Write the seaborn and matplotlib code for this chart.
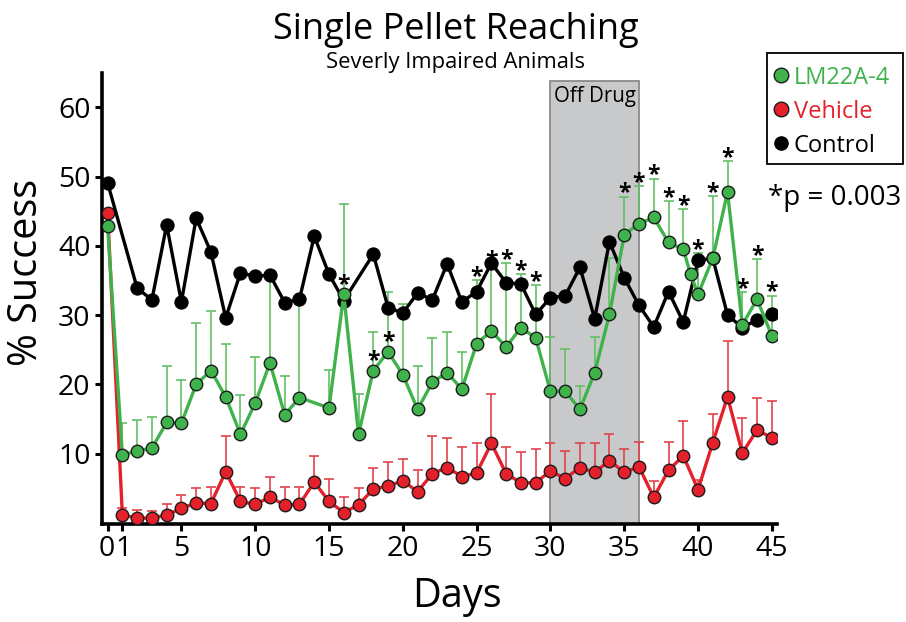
import numpy as np
import matplotlib
matplotlib.use("Agg")
import matplotlib.pyplot as plt
import matplotlib.transforms as mtransforms
from matplotlib.lines import Line2D
from matplotlib.patches import Rectangle
import seaborn as sns

sns.set_style("ticks")
plt.rcParams["font.family"] = ["Open Sans", "DejaVu Sans"]
plt.rcParams["text.color"] = "black"
plt.rcParams["axes.labelcolor"] = "black"
plt.rcParams["xtick.color"] = "black"
plt.rcParams["ytick.color"] = "black"

# ---- data: % success per testing day ----
lm_days = [0, 1, 2, 3, 4, 5, 6, 7, 8, 9, 10, 11, 12, 13, 15, 16, 17, 18, 19, 20,
           21, 22, 23, 24, 25, 26, 27, 28, 29, 30, 31, 32, 33, 34, 35, 36, 37, 38,
           39, 39.5, 40, 41, 42, 43, 44, 45]
lm_mean = [42.8, 9.8, 10.4, 10.8, 14.5, 14.4, 20.0, 22.0, 18.2, 12.8, 17.3, 23.1,
           15.6, 18.1, 16.6, 33.0, 12.8, 22.0, 24.7, 21.4, 16.4, 20.3, 21.7, 19.3,
           25.9, 27.7, 25.4, 28.2, 26.7, 19.0, 19.0, 16.4, 21.7, 30.1, 41.6, 43.2,
           44.1, 40.5, 39.5, 35.9, 33.0, 38.2, 47.8, 28.6, 32.3, 27.0]
lm_sem = [np.nan, 4.6, 4.5, 4.5, 8.1, 6.2, 8.9, 8.6, 7.7, 5.7, 6.7, 12.2, 5.6, 13.5,
          5.5, 13.1, 5.8, 5.5, 8.7, 10.2, 6.3, 6.4, 5.8, 5.4, 9.1, 9.7, 12.1, 7.7,
          7.6, 7.8, 6.1, 3.4, 5.2, 8.1, 5.5, 5.4, 5.6, 6.0, 5.8, np.nan, 5.9, 9.0,
          4.4, 4.7, 5.8, 5.8]

veh_days = list(range(0, 46))
veh_mean = [44.8, 1.15, 0.7, 0.7, 1.15, 2.1, 2.9, 2.8, 7.4, 3.1, 2.7, 3.7, 2.6, 2.7,
            5.9, 3.1, 1.5, 2.6, 4.9, 5.3, 6.1, 4.5, 7.1, 8.0, 6.7, 7.2, 11.5, 7.1,
            5.8, 5.8, 7.5, 6.4, 8.0, 7.3, 9.0, 7.3, 8.1, 3.7, 7.6, 9.7, 4.8, 11.6,
            18.2, 10.1, 13.4, 12.3]
veh_sem = [np.nan, 1.05, 1.2, 1.0, 1.55, 1.9, 2.2, 2.35, 5.2, 2.05, 2.3, 3.0, 2.55,
           2.45, 3.8, 3.2, 2.2, 2.4, 3.1, 3.5, 3.1, 3.2, 5.5, 4.3, 4.3, 4.4, 7.1,
           3.8, 4.5, 4.8, 4.1, 4.0, 3.6, 4.3, 3.8, 3.4, 3.6, 2.4, 4.1, 5.0, 1.4,
           4.1, 8.1, 5.0, 4.7, 5.3]

ctrl_days = [0] + list(range(2, 17)) + list(range(18, 46))
ctrl_mean = [49.1, 33.9, 32.2, 43.0, 31.9, 44.0, 39.1, 29.6, 36.1, 35.6, 35.8, 31.8,
             32.3, 41.4, 35.9, 32.1, 38.8, 31.1, 30.3, 33.2, 32.2, 37.4, 31.9, 33.4,
             37.5, 34.7, 34.5, 30.1, 32.5, 32.8, 36.9, 29.5, 40.6, 35.4, 31.4, 28.3,
             33.4, 29.0, 37.9, 38.2, 30.0, 28.2, 29.3, 30.2]

# days with significant LM22A-4 effect; a few are flagged just above the point
star_days = [16, 18, 19, 25, 26, 27, 28, 29, 35, 36, 37, 38, 39, 40, 41, 42, 43, 44, 45]
star_on_point = [16, 18, 19]

off_drug = (30, 36)
x_ticks = [0, 1, 5, 10, 15, 20, 25, 30, 35, 40, 45]
y_ticks = [10, 20, 30, 40, 50, 60]

GREEN = "#3fb24b"
GREEN_ERR = "#62bf66"
RED = "#e4202b"
RED_ERR = "#e2434b"
EDGE = "#1c1c1c"

W, H = 906, 622
fig = plt.figure(figsize=(W / 100, H / 100), dpi=100)
ax = fig.add_axes([101.7 / W, 97.7 / H, 675 / W, 451.6 / H])
ax.set_xlim(-0.4, 45.33)
ax.set_ylim(-0.2, 65)

# off-drug window
ax.axvspan(*off_drug, ymin=0, ymax=(63.8 + 0.2) / 65.2, facecolor="#c8c9cb",
           edgecolor="#8a8a8a", lw=1.3, zorder=0)
ax.text(sum(off_drug) / 2, 61.5, "Off Drug", ha="center", va="center", fontsize=14.8)


def upper_bars(days, mean, sem, color):
    d = np.asarray(days, float)
    m = np.asarray(mean, float)
    s = np.asarray(sem, float)
    ok = ~np.isnan(s)
    ax.errorbar(d[ok], m[ok], yerr=[np.zeros(ok.sum()), s[ok]], fmt="none",
                ecolor=color, elinewidth=1.2, capsize=3.8, capthick=1.2, zorder=1)


upper_bars(lm_days, lm_mean, lm_sem, GREEN_ERR)
upper_bars(veh_days, veh_mean, veh_sem, RED_ERR)

sns.lineplot(x=veh_days, y=veh_mean, color=RED, lw=2.4, marker="o", markersize=9,
             markerfacecolor=RED, markeredgecolor=EDGE, markeredgewidth=1.0,
             errorbar=None, legend=False, ax=ax, zorder=3)
sns.lineplot(x=ctrl_days, y=ctrl_mean, color="black", lw=2.4, marker="o",
             markersize=9.5, markerfacecolor="black", markeredgecolor="black",
             markeredgewidth=0.8, errorbar=None, legend=False, ax=ax, zorder=4)
sns.lineplot(x=lm_days, y=lm_mean, color=GREEN, lw=2.4, marker="o", markersize=9,
             markerfacecolor=GREEN, markeredgecolor=EDGE, markeredgewidth=1.0,
             errorbar=None, legend=False, ax=ax, zorder=5)

# significance asterisks
lm_lookup = {d: (m, s) for d, m, s in zip(lm_days, lm_mean, lm_sem)}
for d in star_days:
    m, s = lm_lookup[d]
    if d in star_on_point:
        y, off = m, 2.5
    else:
        y, off = m + s, -2.0
    ax.annotate("*", xy=(d, y), xytext=(0, off), textcoords="offset points",
                ha="center", va="baseline", fontsize=16.5, fontweight="bold",
                zorder=6)

ax.set_xticks(x_ticks)
ax.set_xticklabels([str(t) for t in x_ticks])
ax.set_yticks(y_ticks)
ax.set_yticklabels([str(t) for t in y_ticks])
ax.tick_params(axis="both", labelsize=20.5, width=2.2, length=5, direction="out",
               color="black", labelcolor="black", pad=3)
sns.despine(ax=ax)
for side in ("left", "bottom"):
    ax.spines[side].set_linewidth(2.6)
    ax.spines[side].set_color("black")
ax.set_xlabel("")
ax.set_ylabel("")

# the "0" and "1" labels sit on neighbouring ticks: nudge them apart a little
xlabels = ax.get_xticklabels()
for lbl, dx in ((xlabels[0], -0.9), (xlabels[1], 0.7)):
    lbl.set_transform(lbl.get_transform() +
                      mtransforms.ScaledTranslation(dx / 72, 0, fig.dpi_scale_trans))

fig.text(456 / W, 1 - 39 / H, "Single Pellet Reaching", ha="center",
         va="baseline", fontsize=26)
fig.text(455 / W, 1 - 68 / H, "Severly Impaired Animals", ha="center",
         va="baseline", fontsize=15.8)
fig.text(27 / W, 1 - 272 / H, "% Success", rotation=90, ha="center",
         va="center", fontsize=28.5)
fig.text(457 / W, 1 - 597 / H, "Days", ha="center", va="center", fontsize=28.5)

# legend: box drawn separately so its padding can be set on each side
fig.add_artist(Rectangle((767 / W, 1 - 164 / H), (903 - 767) / W, (164 - 53) / H,
                         transform=fig.transFigure, facecolor="white",
                         edgecolor="black", lw=1.3, zorder=2))
handles = [
    Line2D([], [], ls="none", marker="o", markersize=10.5, markerfacecolor=GREEN,
           markeredgecolor=EDGE, markeredgewidth=1.0),
    Line2D([], [], ls="none", marker="o", markersize=10.5, markerfacecolor=RED,
           markeredgecolor=EDGE, markeredgewidth=1.0),
    Line2D([], [], ls="none", marker="o", markersize=9.5, markerfacecolor="black",
           markeredgecolor="black"),
]
labels = ["LM22A-4", "Vehicle", "Control"]
leg = fig.legend(handles, labels, loc="upper left",
                 bbox_to_anchor=(768 / W, 1 - 61 / H), frameon=False,
                 fontsize=17, handlelength=0.7, handletextpad=0.2,
                 labelspacing=0.42, borderpad=0.2, borderaxespad=0)
leg.set_zorder(3)
for t, c in zip(leg.get_texts(), [GREEN, RED, "black"]):
    t.set_color(c)

fig.text(768 / W, 1 - 198 / H, "*p = 0.003", ha="left", va="center",
         fontsize=20)

fig.savefig("out.png", dpi=100)
